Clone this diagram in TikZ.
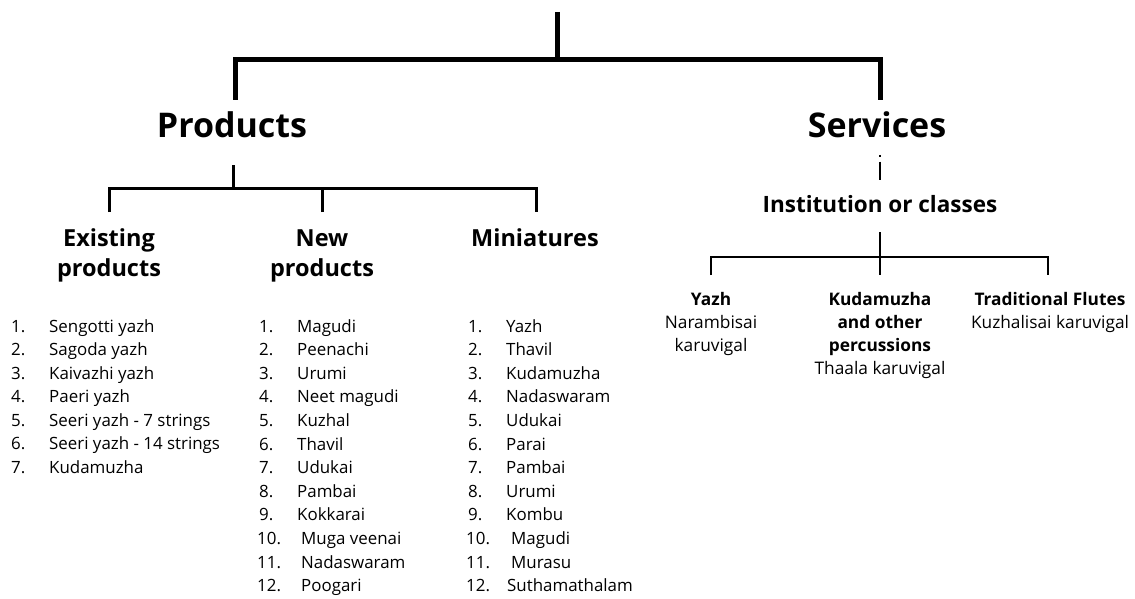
\documentclass[tikz,border=0pt]{standalone}
\usepackage{fontspec}
\setmainfont{Open Sans}
\begin{document}
\begin{tikzpicture}[x=1pt,y=-1pt,
  big/.style={font=\fontsize{34}{40}\selectfont\bfseries, inner sep=0pt, anchor=base},
  mid/.style={font=\fontsize{23.5}{30}\selectfont\bfseries, inner sep=0pt, align=center, anchor=base},
  inst/.style={font=\fontsize{22.5}{26}\selectfont\bfseries, inner sep=0pt, anchor=base},
  leaf/.style={font=\fontsize{17.3}{23}\selectfont, inner sep=0pt, align=center, anchor=base},
  li/.style={font=\fontsize{16.9}{18}\selectfont, inner sep=0pt, anchor=base west},
  thick1/.style={line width=5pt},
  thick2/.style={line width=3pt},
  thick3/.style={line width=2.3pt}]
\useasboundingbox (0,0) rectangle (1135,599);
% top level
\coordinate (root) at (557,12);
\coordinate (rj) at (557,60);
\coordinate (pt) at (235,100);
\coordinate (st) at (880,100);
\draw[thick1] (root) -- (rj);
\draw[thick1] (pt) -- (pt |- rj) -- (st |- rj) -- (st);
\node[big] (prod) at (232,138) {Products};
\node[big] (serv) at (877,138) {Services};
% products subtree
\coordinate (pb) at (233,165);
\coordinate (pj) at (233,188);
\coordinate (e1) at (109,212);
\coordinate (n1) at (322,212);
\coordinate (m1) at (536,212);
\draw[thick2] (pb) -- (pj);
\draw[thick2] (e1) -- (e1 |- pj) -- (m1 |- pj) -- (m1);
\draw[thick2] (n1) -- (n1 |- pj);
\node[mid] (exist) at (109,276) {Existing\\products};
\node[mid] (newp) at (322,276) {New\\products};
\node[mid] (mini) at (535,246) {Miniatures};
% services subtree
\coordinate (sa) at (880,155);
\coordinate (sb) at (880,180);
\draw[line width=1.8pt, dash pattern=on 2.5pt off 4pt on 30pt] (sa) -- (sb);
\node[inst] (ins) at (880,212) {Institution or classes};
\coordinate (ib) at (880,232);
\coordinate (ij) at (880,257);
\coordinate (y1) at (711,275);
\coordinate (k1) at (880,275);
\coordinate (f1) at (1048,275);
\draw[thick3] (ib) -- (k1);
\draw[thick3] (y1) -- (y1 |- ij) -- (f1 |- ij) -- (f1);
\node[leaf] (yazh) at (711,351) {\textbf{Yazh}\\Narambisai\\karuvigal};
\node[leaf] (kuda) at (880,374) {\textbf{Kudamuzha}\\\textbf{and other}\\\textbf{percussions}\\Thaala karuvigal};
\node[leaf] (flut) at (1050,328) {\textbf{Traditional Flutes}\\Kuzhalisai karuvigal};
% lists
\foreach \t [count=\i] in {Sengotti yazh,Sagoda yazh,Kaivazhi yazh,Paeri yazh,Seeri yazh - 7 strings,Seeri yazh - 14 strings,Kudamuzha}{
  \node[li] (en\i) at (11,{332+(\i-1)*23.5}) {\i.};
  \node[li] (et\i) at (49,{332+(\i-1)*23.5}) {\t};
}
\foreach \t [count=\i] in {Magudi,Peenachi,Urumi,Neet magudi,Kuzhal,Thavil,Udukai,Pambai,Kokkarai}{
  \node[li] (nn\i) at (259,{332+(\i-1)*23.6}) {\i.};
  \node[li] (nt\i) at (297,{332+(\i-1)*23.6}) {\t};
}
\foreach \t [count=\i from 10] in {Muga veenai,Nadaswaram,Poogari}{
  \node[li] (nn\i) at (257,{332+(\i-1)*23.6}) {\i.};
  \node[li] (nt\i) at (301,{332+(\i-1)*23.6}) {\t};
}
\foreach \t [count=\i] in {Yazh,Thavil,Kudamuzha,Nadaswaram,Udukai,Parai,Pambai,Urumi,Kombu}{
  \node[li] (mn\i) at (468,{332+(\i-1)*23.6}) {\i.};
  \node[li] (mt\i) at (506,{332+(\i-1)*23.6}) {\t};
}
\foreach \t [count=\i from 10] in {Magudi,Murasu,Suthamathalam}{
  \node[li] (mn\i) at (466,{332+(\i-1)*23.6}) {\i.};
  \node[li] (mt\i) at (\ifnum\i=12 507\else 511\fi,{332+(\i-1)*23.6}) {\t};
}
\end{tikzpicture}
\end{document}
